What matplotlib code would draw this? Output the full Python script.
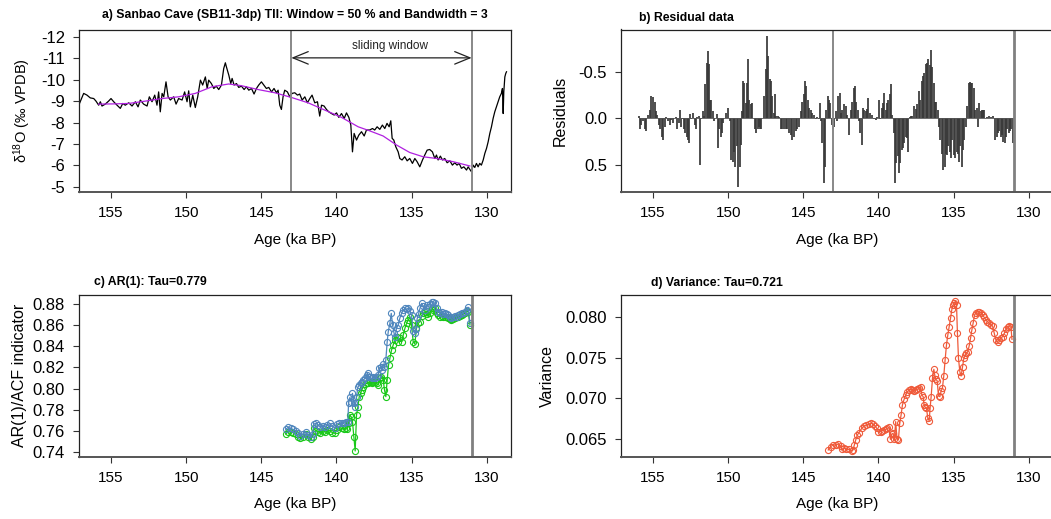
import matplotlib
matplotlib.use('Agg')
import matplotlib.pyplot as plt

plt.rcParams['font.family'] = ['Liberation Sans', 'DejaVu Sans']
plt.rcParams['mathtext.fontset'] = 'custom'
plt.rcParams['mathtext.rm'] = 'Liberation Sans'
plt.rcParams['mathtext.default'] = 'regular'

# ---- data ----
# panel a: d18O record (age ka BP, permil)
d18o_age = [157.15, 156.82, 156.60, 156.38, 156.15, 156.0, 155.82, 155.71, 155.6, 155.38,
            155.16, 155.0, 154.82, 154.6, 154.38, 154.22, 154.05, 153.82, 153.6, 153.38,
            153.2, 153.05, 152.83, 152.6, 152.45, 152.27, 152.09, 151.94, 151.83, 151.72,
            151.6, 151.49, 151.34, 151.2, 151.05, 150.83, 150.67, 150.5, 150.27, 150.1,
            149.94, 149.83, 149.72, 149.56, 149.39, 149.23, 149.05, 148.9, 148.72, 148.6,
            148.5, 148.32, 148.16, 148.0, 147.83, 147.65, 147.5, 147.39, 147.32, 147.16,
            147.03, 146.94, 146.81, 146.65, 146.5, 146.32, 146.14, 145.99, 145.83, 145.65,
            145.48, 145.32, 145.17, 144.99, 144.83, 144.66, 144.5, 144.32, 144.15, 143.99,
            143.88, 143.77, 143.66, 143.55, 143.44, 143.26, 143.1, 142.95, 142.77, 142.59,
            142.44, 142.28, 142.1, 141.93, 141.77, 141.62, 141.44, 141.26, 141.11, 140.99,
            140.82, 140.66, 140.51, 140.33, 140.15, 139.99, 139.84, 139.66, 139.48, 139.33,
            139.17, 139.04, 138.93, 138.82, 138.66, 138.51, 138.33, 138.15, 138.0, 137.78,
            137.6, 137.45, 137.29, 137.11, 136.94, 136.78, 136.63, 136.49, 136.38, 136.29,
            136.18, 136.05, 135.89, 135.78, 135.63, 135.45, 135.29, 135.12, 134.94, 134.78,
            134.63, 134.45, 134.27, 134.12, 133.96, 133.79, 133.61, 133.45, 133.34, 133.23,
            133.08, 132.94, 132.79, 132.63, 132.45, 132.28, 132.12, 131.97, 131.83, 131.68,
            131.52, 131.34, 131.23, 131.12, 131.01, 130.9, 130.79, 130.68, 130.57, 130.46,
            130.35, 130.23, 130.12, 130.01, 129.9, 129.79, 129.68, 129.57, 129.46, 129.35,
            129.24, 129.13, 129.02, 128.95, 128.9, 128.86, 128.79, 128.73, 128.68]
d18o_val = [-8.8, -9.36, -9.28, -9.15, -9.12, -9.0, -8.81, -8.97, -8.77, -8.86,
            -9.0, -9.12, -8.97, -8.81, -8.66, -8.89, -8.81, -8.92, -8.77, -8.97,
            -8.73, -9.05, -8.86, -8.77, -9.2, -8.97, -9.28, -8.81, -9.43, -8.5,
            -9.36, -9.2, -9.9, -9.2, -9.05, -9.2, -8.86, -9.12, -9.05, -9.43,
            -8.97, -9.48, -8.73, -9.28, -8.7, -9.2, -9.98, -9.75, -10.13, -9.59,
            -9.98, -9.82, -9.59, -9.7, -9.54, -9.75, -10.52, -10.79, -10.6, -10.21,
            -9.82, -10.06, -9.75, -9.82, -9.64, -9.7, -9.54, -9.67, -9.51, -9.59,
            -9.33, -9.59, -9.75, -9.9, -9.75, -9.59, -9.64, -9.43, -9.59, -9.39,
            -9.51, -8.81, -8.61, -9.2, -9.51, -9.43, -9.2, -9.36, -9.39, -9.28,
            -9.33, -9.05, -9.2, -8.92, -9.12, -9.28, -8.92, -8.97, -8.3, -8.81,
            -8.77, -8.61, -8.5, -8.42, -8.35, -8.45, -8.24, -8.42, -8.19, -8.45,
            -8.24, -7.88, -6.63, -7.49, -7.18, -7.41, -7.57, -7.37, -7.65, -7.65,
            -7.72, -7.65, -7.8, -7.68, -7.88, -7.72, -7.96, -7.8, -8.08, -7.26,
            -7.18, -6.87, -6.63, -6.32, -6.25, -6.4, -6.21, -6.32, -6.09, -6.32,
            -6.17, -5.93, -6.25, -6.48, -6.71, -6.74, -6.63, -6.32, -6.48, -6.25,
            -6.43, -6.25, -6.32, -6.12, -6.21, -6.01, -6.12, -6.01, -6.09, -5.86,
            -5.93, -5.78, -5.93, -5.81, -5.7, -6.01, -5.9, -6.09, -5.93, -6.09,
            -6.01, -6.25, -6.56, -6.79, -7.1, -7.49, -7.8, -8.19, -8.5, -8.73,
            -8.97, -9.2, -9.36, -9.59, -8.42, -9.43, -10.13, -10.29, -10.37]

# smoothed trend (bandwidth 3)
trend_age = [155.82, 154.8, 153.82, 152.71, 151.6, 150.5, 149.39, 148.28, 147.17, 146.32,
             145.21, 144.1, 142.99, 141.88, 140.77, 139.66, 138.55, 137.78, 136.89, 136.0,
             135.12, 134.23, 133.34, 132.23, 131.12]
trend_val = [-8.86, -8.87, -8.89, -9.0, -9.12, -9.2, -9.36, -9.67, -9.8, -9.72,
             -9.54, -9.39, -9.17, -8.92, -8.58, -8.24, -7.8, -7.61, -7.37, -6.95,
             -6.6, -6.4, -6.32, -6.17, -5.97]

window_start = 143.0
window_end = 131.0

# panel b: residuals
resid_age = [155.95, 155.89, 155.78, 155.67, 155.55, 155.44, 155.33, 155.22, 155.11, 155.0,
             154.89, 154.78, 154.71, 154.62, 154.51, 154.4, 154.31, 154.22, 154.11, 154.0,
             153.89, 153.78, 153.67, 153.55, 153.49, 153.38, 153.29, 153.2, 153.11, 153.02,
             152.93, 152.84, 152.75, 152.67, 152.6, 152.53, 152.44, 152.33, 152.22, 152.13,
             152.04, 151.95, 151.84, 151.78, 151.69, 151.6, 151.51, 151.42, 151.35, 151.29,
             151.2, 151.11, 151.02, 150.93, 150.84, 150.75, 150.67, 150.58, 150.49, 150.4,
             150.31, 150.22, 150.11, 150.0, 149.89, 149.78, 149.69, 149.6, 149.51, 149.42,
             149.33, 149.24, 149.15, 149.07, 149.0, 148.93, 148.84, 148.75, 148.67, 148.58,
             148.49, 148.4, 148.31, 148.22, 148.13, 148.04, 147.95, 147.87, 147.78, 147.69,
             147.6, 147.51, 147.42, 147.33, 147.24, 147.15, 147.07, 146.98, 146.89, 146.8,
             146.71, 146.62, 146.51, 146.4, 146.29, 146.18, 146.07, 145.95, 145.84, 145.73,
             145.62, 145.51, 145.4, 145.29, 145.18, 145.07, 144.98, 144.89, 144.8, 144.71,
             144.62, 144.51, 144.4, 144.29, 144.18, 144.07, 143.95, 143.89, 143.8, 143.73,
             143.64, 143.55, 143.47, 143.38, 143.29, 143.2, 143.11, 143.02, 142.93, 142.84,
             142.75, 142.67, 142.58, 142.49, 142.4, 142.29, 142.18, 142.07, 141.95, 141.84,
             141.73, 141.64, 141.55, 141.47, 141.38, 141.29, 141.2, 141.11, 141.02, 140.93,
             140.84, 140.75, 140.67, 140.58, 140.49, 140.4, 140.29, 140.18, 140.07, 139.95,
             139.87, 139.78, 139.69, 139.6, 139.51, 139.42, 139.33, 139.24, 139.15, 139.07,
             138.98, 138.89, 138.8, 138.71, 138.62, 138.53, 138.44, 138.35, 138.27, 138.18,
             138.09, 138.0, 137.91, 137.82, 137.74, 137.62, 137.51, 137.4, 137.29, 137.2,
             137.11, 137.02, 136.94, 136.85, 136.76, 136.67, 136.58, 136.49, 136.4, 136.31,
             136.22, 136.14, 136.05, 135.96, 135.87, 135.78, 135.69, 135.6, 135.51, 135.42,
             135.34, 135.25, 135.16, 135.07, 134.98, 134.89, 134.8, 134.71, 134.62, 134.54,
             134.45, 134.36, 134.27, 134.18, 134.09, 134.0, 133.91, 133.82, 133.74, 133.65,
             133.56, 133.47, 133.38, 133.29, 133.2, 133.11, 133.02, 132.94, 132.85, 132.74,
             132.62, 132.51, 132.4, 132.29, 132.22, 132.14, 132.05, 131.96, 131.87, 131.78,
             131.69, 131.6, 131.51, 131.42, 131.34, 131.25, 131.16, 131.07]
resid_val = [-0.02, 0.12, 0.07, 0.03, 0.12, 0.14, -0.04, -0.09, -0.24, -0.23,
             -0.18, -0.08, -0.04, 0.07, 0.12, 0.2, 0.23, 0.09, -0.01, 0.03,
             0.07, 0.02, 0.05, 0.0, -0.01, 0.12, 0.05, -0.09, 0.09, 0.01,
             0.12, 0.16, 0.2, 0.23, 0.27, -0.05, 0.01, -0.06, 0.07, 0.11,
             -0.01, -0.02, 0.5, 0.01, -0.08, -0.02, -0.37, -0.6, -0.73, -0.58,
             -0.2, -0.2, -0.08, 0.03, 0.0, -0.05, 0.32, 0.12, 0.2, 0.16,
             0.05, 0.0, -0.06, -0.11, 0.03, 0.45, 0.47, 0.36, 0.52, 0.3,
             0.74, 0.52, 0.29, -0.08, -0.4, -0.38, -0.17, -0.38, -0.64, -0.2,
             -0.15, -0.16, 0.0, 0.12, 0.16, 0.12, 0.09, 0.11, 0.11, 0.0,
             -0.24, -0.53, -0.89, -0.67, -0.42, -0.4, -0.24, -0.06, -0.26, -0.02,
             -0.03, -0.01, 0.12, 0.12, 0.12, 0.11, 0.12, 0.16, 0.18, 0.23,
             0.2, 0.14, 0.11, 0.09, -0.08, -0.18, -0.26, -0.4, -0.35, -0.2,
             -0.11, -0.09, -0.06, -0.04, 0.01, -0.01, 0.01, -0.17, 0.03, 0.27,
             0.7, 0.52, -0.09, -0.24, -0.2, -0.17, 0.07, 0.12, 0.09, -0.08,
             0.03, -0.24, -0.27, -0.06, -0.09, -0.15, -0.13, -0.04, 0.18, -0.09,
             -0.18, -0.33, -0.35, -0.18, -0.09, 0.03, 0.16, 0.29, -0.11, -0.09,
             -0.08, -0.1, -0.22, -0.06, 0.0, -0.04, 0.01, 0.02, -0.01, -0.2,
             0.01, -0.11, -0.17, -0.27, -0.09, -0.17, -0.2, -0.26, -0.37, -0.04,
             0.16, 0.7, 0.48, 0.41, 0.59, 0.48, 0.34, 0.32, 0.27, 0.2,
             0.21, 0.36, -0.01, -0.02, -0.03, -0.13, -0.1, -0.15, -0.29, -0.2,
             -0.4, -0.46, -0.49, -0.58, -0.6, -0.64, -0.57, -0.74, -0.55, -0.38,
             -0.18, -0.18, -0.09, 0.09, 0.23, 0.38, 0.56, 0.52, 0.38, 0.4,
             0.3, 0.36, 0.43, 0.23, 0.4, 0.43, 0.36, 0.38, 0.47, 0.3,
             0.52, 0.34, 0.23, 0.09, -0.13, -0.38, -0.39, -0.38, -0.38, -0.33,
             -0.09, -0.11, 0.09, -0.17, -0.08, -0.09, -0.09, -0.09, 0.0, -0.01,
             -0.03, -0.01, -0.02, 0.0, 0.23, 0.2, 0.16, 0.14, 0.2, 0.18,
             0.25, 0.27, 0.2, 0.12, 0.16, 0.14, 0.12, 0.27]

# panel c: AR(1) (blue) and ACF (green)
ar1_age = [143.37, 143.21, 143.05, 142.88, 142.70, 142.54, 142.39, 142.21, 142.03, 141.88,
           141.72, 141.59, 141.50, 141.37, 141.21, 141.06, 140.92, 140.77, 140.61, 140.44,
           140.26, 140.10, 139.99, 139.81, 139.66, 139.50, 139.37, 139.24, 139.19, 139.10,
           139.02, 138.93, 138.84, 138.75, 138.66, 138.57, 138.48, 138.39, 138.31, 138.22,
           138.11, 137.99, 137.93, 137.86, 137.77, 137.66, 137.55, 137.44, 137.33, 137.22,
           137.15, 137.06, 136.97, 136.88, 136.80, 136.71, 136.62, 136.55, 136.44, 136.35,
           136.26, 136.17, 136.09, 136.0, 135.89, 135.78, 135.66, 135.55, 135.44, 135.33,
           135.22, 135.11, 135.0, 134.89, 134.78, 134.71, 134.62, 134.53, 134.44, 134.33,
           134.22, 134.11, 134.0, 133.89, 133.78, 133.67, 133.56, 133.45, 133.33, 133.22,
           133.11, 133.0, 132.89, 132.78, 132.67, 132.56, 132.45, 132.34, 132.22, 132.11,
           132.0, 131.89, 131.78, 131.67, 131.56, 131.45, 131.34, 131.23, 131.11]
ar1_val = [0.7616, 0.7635, 0.7625, 0.7616, 0.7603, 0.7578, 0.7556, 0.7572, 0.7594, 0.7562,
           0.7547, 0.7572, 0.7666, 0.7672, 0.7657, 0.7635, 0.7647, 0.7641, 0.7657, 0.7672,
           0.7647, 0.7625, 0.7666, 0.7672, 0.7679, 0.7672, 0.7688, 0.7688, 0.7861, 0.7917,
           0.7877, 0.7955, 0.7861, 0.7829, 0.7924, 0.8012, 0.8034, 0.8049, 0.8065, 0.8081,
           0.8096, 0.8128, 0.815, 0.8112, 0.8106, 0.8096, 0.8106, 0.8096, 0.8106, 0.8128,
           0.8191, 0.8207, 0.8175, 0.8232, 0.82, 0.827, 0.8442, 0.8536, 0.8615, 0.8709,
           0.8599, 0.8527, 0.8489, 0.8568, 0.8599, 0.8662, 0.8709, 0.8741, 0.8756, 0.8747,
           0.8756, 0.8734, 0.8693, 0.8546, 0.8521, 0.8558, 0.8662, 0.8703, 0.8756, 0.8803,
           0.8778, 0.8741, 0.8788, 0.8772, 0.8797, 0.8819, 0.8819, 0.8803, 0.8756, 0.8725,
           0.8715, 0.8725, 0.8703, 0.8709, 0.8703, 0.8693, 0.8678, 0.8662, 0.8672, 0.8684,
           0.8678, 0.8693, 0.8703, 0.8709, 0.8715, 0.8725, 0.8741, 0.8766, 0.8615]
acf_age = [143.37, 143.21, 143.05, 142.88, 142.70, 142.54, 142.39, 142.21, 142.03, 141.88,
           141.72, 141.59, 141.50, 141.37, 141.21, 141.06, 140.92, 140.77, 140.61, 140.44,
           140.26, 140.10, 139.99, 139.81, 139.66, 139.50, 139.37, 139.28, 139.19, 139.10,
           139.02, 138.93, 138.84, 138.75, 138.66, 138.57, 138.48, 138.39, 138.31, 138.22,
           138.11, 137.99, 137.88, 137.77, 137.66, 137.55, 137.44, 137.33, 137.22, 137.11,
           137.0, 136.88, 136.80, 136.71, 136.62, 136.53, 136.44, 136.33, 136.22, 136.11,
           136.0, 135.89, 135.78, 135.66, 135.55, 135.44, 135.33, 135.22, 135.11, 135.0,
           134.89, 134.78, 134.67, 134.55, 134.44, 134.33, 134.22, 134.11, 134.0, 133.89,
           133.78, 133.67, 133.56, 133.45, 133.33, 133.22, 133.11, 133.0, 132.89, 132.78,
           132.67, 132.56, 132.45, 132.34, 132.22, 132.11, 132.0, 131.89, 131.78, 131.67,
           131.56, 131.45, 131.34, 131.23, 131.11]
acf_val = [0.7572, 0.7594, 0.7594, 0.7584, 0.7572, 0.7547, 0.7531, 0.7547, 0.7572, 0.7541,
           0.7522, 0.7547, 0.7625, 0.7603, 0.7594, 0.7578, 0.7603, 0.7594, 0.7609, 0.7603,
           0.7584, 0.7578, 0.7609, 0.7635, 0.7625, 0.7616, 0.7625, 0.7616, 0.7672, 0.7751,
           0.7735, 0.7688, 0.7547, 0.7412, 0.7751, 0.7829, 0.7924, 0.7955, 0.7987, 0.8018,
           0.8043, 0.8049, 0.8056, 0.8065, 0.8056, 0.8065, 0.8065, 0.8049, 0.8034, 0.8096,
           0.8112, 0.8081, 0.7987, 0.7924, 0.8081, 0.8222, 0.8285, 0.8364, 0.8411, 0.8458,
           0.8489, 0.8442, 0.8474, 0.8442, 0.8505, 0.8568, 0.8615, 0.8646, 0.8678, 0.8599,
           0.8442, 0.842, 0.8568, 0.8615, 0.8631, 0.8684, 0.8709, 0.8725, 0.8703, 0.8678,
           0.8709, 0.8756, 0.8741, 0.8756, 0.8715, 0.8693, 0.8678, 0.8684, 0.8672, 0.8678,
           0.8672, 0.8662, 0.8653, 0.8646, 0.8653, 0.8662, 0.8678, 0.8678, 0.8684, 0.8693,
           0.8703, 0.8709, 0.8734, 0.8725, 0.8599]

# panel d: variance
var_age = [143.34, 143.18, 143.02, 142.85, 142.67, 142.51, 142.40, 142.29, 142.14, 141.96,
           141.78, 141.69, 141.60, 141.51, 141.40, 141.29, 141.11, 140.96, 140.80, 140.62,
           140.51, 140.36, 140.22, 140.11, 140.0, 139.85, 139.74, 139.62, 139.51, 139.40,
           139.29, 139.20, 139.11, 139.02, 138.94, 138.85, 138.76, 138.67, 138.58, 138.49,
           138.40, 138.29, 138.18, 138.07, 137.96, 137.85, 137.74, 137.62, 137.51, 137.40,
           137.29, 137.18, 137.11, 137.02, 136.96, 136.89, 136.80, 136.71, 136.62, 136.56,
           136.49, 136.40, 136.31, 136.25, 136.18, 136.09, 136.0, 135.91, 135.82, 135.74,
           135.65, 135.56, 135.47, 135.38, 135.29, 135.20, 135.11, 135.02, 134.94, 134.87,
           134.80, 134.74, 134.67, 134.58, 134.49, 134.40, 134.31, 134.22, 134.14, 134.05,
           133.96, 133.87, 133.78, 133.69, 133.60, 133.51, 133.40, 133.29, 133.18, 133.07,
           132.96, 132.85, 132.74, 132.62, 132.51, 132.40, 132.29, 132.18, 132.07, 131.96,
           131.85, 131.74, 131.62, 131.51, 131.40, 131.29, 131.18, 131.11]
var_val = [0.06365, 0.06406, 0.06427, 0.06427, 0.06439, 0.06414, 0.06373, 0.06386, 0.06373, 0.06373,
           0.06357, 0.06365, 0.06427, 0.06488, 0.0655, 0.06579, 0.06632, 0.06661, 0.06673, 0.06685,
           0.06694, 0.06685, 0.06661, 0.06632, 0.06591, 0.06591, 0.06603, 0.06611, 0.0662, 0.06632,
           0.06644, 0.06496, 0.06562, 0.0657, 0.06496, 0.06714, 0.06496, 0.06488, 0.06694, 0.06796,
           0.0692, 0.06989, 0.07043, 0.07084, 0.07104, 0.07113, 0.07104, 0.07096, 0.07104, 0.07113,
           0.07125, 0.07146, 0.07043, 0.07022, 0.0692, 0.06891, 0.06878, 0.06755, 0.06726, 0.06878,
           0.07022, 0.07248, 0.07359, 0.07289, 0.07236, 0.07219, 0.0703, 0.07022, 0.07096, 0.07125,
           0.07277, 0.07474, 0.07659, 0.07782, 0.07885, 0.07988, 0.08099, 0.08152, 0.08181, 0.08201,
           0.08152, 0.07803, 0.07495, 0.0733, 0.07277, 0.07392, 0.07495, 0.07536, 0.07556, 0.07577,
           0.07647, 0.07741, 0.07844, 0.07934, 0.08029, 0.08058, 0.0807, 0.0807, 0.08058, 0.08029,
           0.08, 0.07967, 0.07947, 0.07926, 0.07906, 0.07893, 0.07803, 0.07721, 0.077, 0.07721,
           0.07741, 0.07762, 0.07803, 0.07852, 0.07885, 0.07893, 0.07877, 0.07729]

age_ticks = [155, 150, 145, 140, 135, 130]
xlim = (157.13, 128.4)

W, H = 1051, 519
fig = plt.figure(figsize=(W / 100, H / 100), dpi=100)


def panel(x0, y0, x1, y1):
    ax = fig.add_axes([x0 / W, 1 - y1 / H, (x1 - x0) / W, (y1 - y0) / H])
    ax.set_xlim(*xlim)
    ax.set_xticks(age_ticks)
    ax.tick_params(direction='out', length=4, width=0.8, color='#333333', pad=6)
    ax.tick_params(axis='x', labelsize=11)
    ax.tick_params(axis='y', labelsize=12)
    for s in ax.spines.values():
        s.set_color('#222222')
        s.set_linewidth(0.9)
    ax.spines['bottom'].set_color('#555555')
    ax.spines['bottom'].set_linewidth(1.4)
    ax.set_xlabel('Age (ka BP)', fontsize=11, labelpad=9)
    return ax


ax_a = panel(79, 29.5, 510.7, 192.3)
ax_b = panel(621, 29.5, 1052.7, 192.3)
ax_c = panel(79, 295, 510.7, 456.7)
ax_d = panel(621, 295, 1052.7, 456.7)

# a) record and trend
ax_a.plot(d18o_age, d18o_val, color='black', lw=0.9)
ax_a.plot(trend_age, trend_val, color='#b020e0', lw=0.9)
ax_a.set_ylim(-4.74, -12.345)
ax_a.set_yticks(range(-12, -4))
ax_a.set_yticklabels([str(v) for v in range(-12, -4)])
for xv in (window_start, window_end):
    ax_a.axvline(xv, color='#888888', lw=1.4)
ax_a.annotate('', xy=(window_start, -11.02), xytext=(window_end, -11.02),
              arrowprops=dict(arrowstyle='<->,head_length=1.1,head_width=0.45',
                              color='#222222', lw=0.9, shrinkA=0, shrinkB=0))
ax_a.text((window_start + window_end) / 2 - 0.6, -11.58, 'sliding window',
          ha='center', va='center', fontsize=8.5, color='#222222')
ax_a.set_ylabel('δ$^{18}$O (‰ VPDB)', fontsize=10.5, labelpad=6)

# b) residuals
ax_b.vlines(resid_age, 0, resid_val, color='#383838', lw=1.25)
ax_b.plot([resid_age[0], resid_age[-1]], [0, 0], color='#555555', lw=0.6)
ax_b.set_ylim(0.797, -0.957)
ax_b.set_yticks([-0.5, 0.0, 0.5])
ax_b.set_yticklabels(['-0.5', '0.0', '0.5'])
ax_b.axvline(window_start, color='#888888', lw=1.4)
ax_b.axvline(window_end, color='#808080', lw=2)
ax_b.set_ylabel('Residuals', fontsize=11.5, labelpad=8)

# c) AR(1)
ax_c.plot(acf_age, acf_val, color='#19c819', lw=0.9, marker='o', ms=4.4,
          mfc='none', mec='#19c819', mew=0.8)
ax_c.plot(ar1_age, ar1_val, color='#4f86bd', lw=0.9, marker='o', ms=4.4,
          mfc='none', mec='#4f86bd', mew=0.8)
ax_c.set_ylim(0.7358, 0.8882)
ax_c.set_yticks([0.74, 0.76, 0.78, 0.80, 0.82, 0.84, 0.86, 0.88])
ax_c.set_yticklabels(['0.74', '0.76', '0.78', '0.80', '0.82', '0.84', '0.86', '0.88'])
ax_c.axvline(window_end, color='#808080', lw=2)
ax_c.set_ylabel('AR(1)/ACF indicator', fontsize=11.5, labelpad=4)

# d) variance
ax_d.plot(var_age, var_val, color='#ef5a3a', lw=0.9, marker='o', ms=4.4,
          mfc='none', mec='#ef5a3a', mew=0.8)
ax_d.set_ylim(0.06282, 0.08275)
ax_d.set_yticks([0.065, 0.070, 0.075, 0.080])
ax_d.set_yticklabels(['0.065', '0.070', '0.075', '0.080'])
ax_d.axvline(window_end, color='#808080', lw=2)
ax_d.set_ylabel('Variance', fontsize=11.5, labelpad=8)

# panel titles
fig.text(294.8 / W, 1 - 15.3 / H, 'a) Sanbao Cave (SB11-3dp) TII: Window = 50 % and Bandwidth = 3',
         ha='center', va='center', fontsize=8.8, fontweight='bold')
fig.text(639 / W, 1 - 18.3 / H, 'b) Residual data', ha='left', va='center',
         fontsize=8.8, fontweight='bold')
fig.text(94 / W, 1 - 282.3 / H, 'c) AR(1): Tau=0.779', ha='left', va='center',
         fontsize=8.8, fontweight='bold')
fig.text(651 / W, 1 - 282.7 / H, 'd) Variance: Tau=0.721', ha='left', va='center',
         fontsize=8.8, fontweight='bold')

fig.savefig('out.png', dpi=100)
